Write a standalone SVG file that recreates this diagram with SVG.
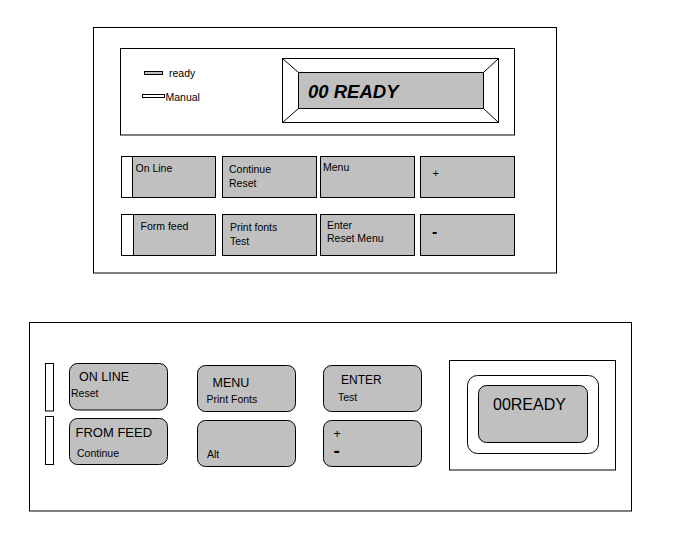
<svg xmlns="http://www.w3.org/2000/svg" width="675" height="543" viewBox="0 0 675 543">
<style>
.ln{fill:none;stroke:#000;stroke-width:1}
.g{fill:#c0c0c0;stroke:#000;stroke-width:1}
.w{fill:#fff;stroke:#000;stroke-width:1}
text{font-family:"Liberation Sans",Arial,sans-serif;fill:#000}
.s{font-size:10.5px}
.b{font-size:12.5px}
</style>
<rect width="675" height="543" fill="#fff"/>
<g id="top-panel">
<rect class="w" x="93.5" y="27.5" width="463" height="245.5"/>
<rect class="w" x="120.5" y="48.5" width="394" height="86.5"/>
</g>
<g id="led-ready">
<rect class="g" x="144.5" y="71.5" width="18" height="3"/>
<text class="s" x="169" y="77">ready</text>
</g>
<g id="led-manual">
<rect class="w" x="142.5" y="94.5" width="22" height="3"/>
<text class="s" x="165.5" y="101">Manual</text>
</g>
<g id="display-top">
<rect class="w" x="282.5" y="58.5" width="216" height="64"/>
<rect class="g" x="298.5" y="72.5" width="185" height="36"/>
<path class="ln" d="M282.5 58.5L298.5 72.5M498.5 58.5L483.5 72.5M282.5 122.5L298.5 108.5M498.5 122.5L483.5 108.5"/>
<text x="308" y="98" font-size="18.5" font-weight="bold" font-style="italic">00 READY</text>
</g>
<g id="btn-online">
<rect class="g" x="121.5" y="156.5" width="94" height="41"/>
<rect class="w" x="121.5" y="156.5" width="11" height="41"/>
<text class="s" x="135.5" y="171.5">On Line</text>
</g>
<g id="btn-continue">
<rect class="g" x="222.5" y="156.5" width="94" height="41"/>
<text class="s" x="229" y="172.5">Continue</text>
<text class="s" x="229" y="186.5">Reset</text>
</g>
<g id="btn-menu">
<rect class="g" x="320.5" y="156.5" width="94" height="41"/>
<text class="s" x="323" y="170.5">Menu</text>
</g>
<g id="btn-plus">
<rect class="g" x="420.5" y="156.5" width="94" height="41"/>
<text x="432.5" y="177" font-size="11">+</text>
</g>
<g id="btn-formfeed">
<rect class="g" x="121.5" y="214.5" width="94" height="41"/>
<rect class="w" x="121.5" y="214.5" width="12" height="41"/>
<text class="s" x="140.5" y="229.5">Form feed</text>
</g>
<g id="btn-printfonts">
<rect class="g" x="222.5" y="214.5" width="94" height="41"/>
<text class="s" x="230" y="230.5">Print fonts</text>
<text class="s" x="230" y="244.5">Test</text>
</g>
<g id="btn-enter">
<rect class="g" x="320.5" y="214.5" width="94" height="41"/>
<text class="s" x="327" y="228.5">Enter</text>
<text class="s" x="327" y="242">Reset Menu</text>
</g>
<g id="btn-minus">
<rect class="g" x="420.5" y="214.5" width="94" height="41"/>
<text x="432" y="236.5" font-size="16" font-weight="bold">-</text>
</g>
<g id="bottom-panel">
<rect class="w" x="29.5" y="322.5" width="602" height="188.5"/>
</g>
<g id="strip-1"><rect class="w" x="45.5" y="363.5" width="8" height="47.5"/></g>
<g id="strip-2"><rect class="w" x="45.5" y="416.5" width="8" height="48"/></g>
<g id="b-online">
<rect class="g" x="69.5" y="363.5" width="98" height="46.5" rx="8"/>
<text class="b" x="79" y="381">ON LINE</text>
<text class="s" x="71" y="396.5">Reset</text>
</g>
<g id="b-fromfeed">
<rect class="g" x="69.5" y="418.5" width="98" height="46" rx="8"/>
<text x="75.5" y="436.5" font-size="13">FROM FEED</text>
<text class="s" x="77" y="456.5">Continue</text>
</g>
<g id="b-menu">
<rect class="g" x="197.5" y="365.5" width="98" height="46" rx="8"/>
<text class="b" x="212.5" y="386.5">MENU</text>
<text class="s" x="206.5" y="402.5">Print Fonts</text>
</g>
<g id="b-alt">
<rect class="g" x="197.5" y="420.5" width="98" height="46" rx="8"/>
<text class="s" x="207" y="457.5">Alt</text>
</g>
<g id="b-enter">
<rect class="g" x="323.5" y="365.5" width="98" height="46" rx="8"/>
<text x="341" y="383.5" font-size="12">ENTER</text>
<text class="s" x="338" y="401">Test</text>
</g>
<g id="b-plusminus">
<rect class="g" x="323.5" y="420.5" width="98" height="46" rx="8"/>
<text x="333.5" y="438" font-size="12.5">+</text>
<text x="333.5" y="456.5" font-size="19" font-weight="bold">-</text>
</g>
<g id="display-bottom">
<rect class="w" x="449.5" y="360.5" width="166" height="109.5"/>
<rect class="w" x="467.5" y="375.5" width="131" height="78" rx="10"/>
<rect class="g" x="478.5" y="385.5" width="109" height="57" rx="8"/>
<text x="493" y="409.5" font-size="16">00READY</text>
</g>
<g id="connectors"></g>
</svg>
